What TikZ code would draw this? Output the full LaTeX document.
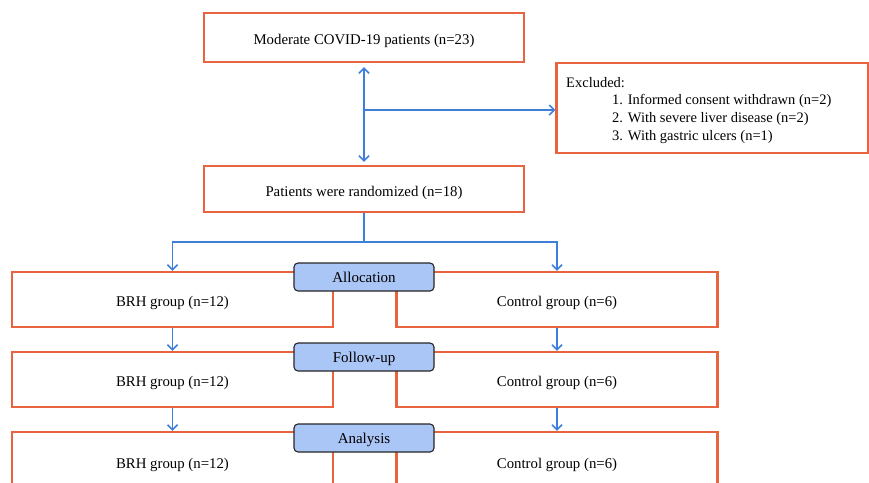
\documentclass[tikz,border=0pt]{standalone}
\usepackage{fontspec}
\setmainfont{Liberation Serif}
\usetikzlibrary{arrows.meta}
\definecolor{boxred}{HTML}{E8633F}
\definecolor{arrowblue}{HTML}{3D7FDB}
\definecolor{labfill}{HTML}{AAC6F6}
\begin{document}
\begin{tikzpicture}[x=1pt,y=-1pt,
  box/.style={draw=boxred,line width=2.4pt,inner sep=0pt,text height=18pt,text depth=3.3pt,font=\fontsize{14.8}{17.5}\selectfont},
  widebox/.style={box,minimum width=320pt,minimum height=#1},
  grpbox/.style={box,minimum width=321pt,minimum height=55pt},
  lab/.style={draw=black!85,fill=labfill,line width=1.1pt,rounded corners=4pt,minimum width=140pt,minimum height=28pt,inner sep=0pt,text height=15pt,text depth=3.3pt,font=\fontsize{15}{17}\selectfont},
  arr/.style={draw=arrowblue,line width=1.5pt,arrows={-Straight Barb[length=5pt,width=10pt]}},
  line/.style={draw=arrowblue,line width=1.5pt}]
\useasboundingbox (0,0) rectangle (869,482);
\clip (0,0) rectangle (869,482);
% boxes
\node[widebox=49pt] (top) at (364,37.5) {Moderate COVID-19 patients (n=23)};
\node[widebox=46pt] (rand) at (364,189) {Patients were randomized (n=18)};
\node[box,minimum width=312pt,minimum height=90pt] (exc) at (712.5,108) {};
\node[anchor=north west,align=left,inner sep=0pt,font=\fontsize{14.5}{17.6}\selectfont] (exctext) at (566,77)
  {Excluded:\\\hspace*{46pt}1. Informed consent withdrawn (n=2)\\\hspace*{46pt}2. With severe liver disease (n=2)\\\hspace*{46pt}3. With gastric ulcers (n=1)};
\node[grpbox] (brh1) at (172.5,299.5) {BRH group (n=12)};
\node[grpbox] (ctl1) at (557,299.5) {Control group (n=6)};
\node[grpbox] (brh2) at (172.5,379.5) {BRH group (n=12)};
\node[grpbox] (ctl2) at (557,379.5) {Control group (n=6)};
\node[grpbox,minimum height=58pt] (brh3) at (172.5,461) {BRH group (n=12)};
\node[grpbox,minimum height=58pt] (ctl3) at (557,461) {Control group (n=6)};
% labels
\node[lab] (alloc) at (364,277) {Allocation};
\node[lab] (fu) at (364,357) {Follow-up};
\node[lab] (ana) at (364,438) {Analysis};
% connectors
\draw[arr,{Straight Barb[length=5pt,width=10pt]}-{Straight Barb[length=5pt,width=10pt]},shorten <=4pt,shorten >=3pt] (top.south) -- (rand.north);
\coordinate (split) at (364,110);
\draw[arr] (split) -- (split -| exc.west);
\coordinate (fork) at (364,242);
\draw[line] (rand.south) -- (fork);
\draw[arr] (fork) -| (brh1.north);
\draw[arr] (fork) -| (ctl1.north);
\draw[arr] (brh1.south) -- (brh2.north);
\draw[arr] (ctl1.south) -- (ctl2.north);
\draw[arr] (brh2.south) -- (brh3.north);
\draw[arr] (ctl2.south) -- (ctl3.north);
\end{tikzpicture}
\end{document}
